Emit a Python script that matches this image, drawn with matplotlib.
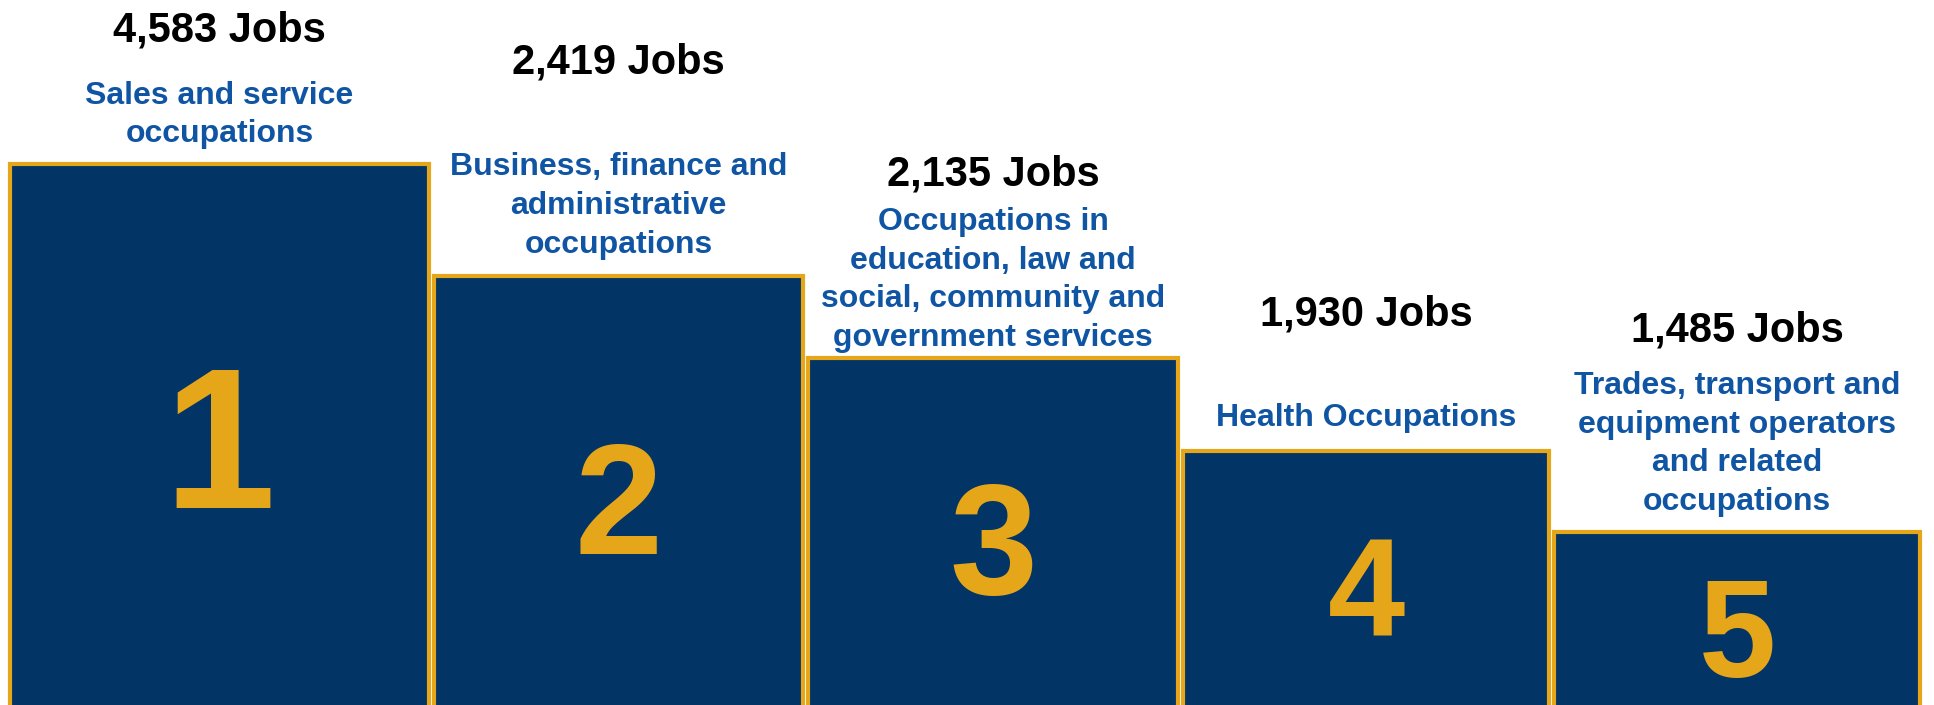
import matplotlib.pyplot as plt

ranks = ['1', '2', '3', '4', '5']
jobs = [4583, 2419, 2135, 1930, 1485]
occupations = [
    'Sales and service\noccupations',
    'Business, finance and\nadministrative\noccupations',
    'Occupations in\neducation, law and\nsocial, community and\ngovernment services',
    'Health Occupations',
    'Trades, transport and\nequipment operators\nand related\noccupations',
]
# podium step heights (pixels above the base)
podium = [550, 438, 356, 263, 182]

# layout (pixel units of the 1934x705 canvas)
lefts = [10, 434, 808, 1183, 1554]
widths = [419, 369, 370, 366, 366]
jobs_off = [133, 213, 184, 136, 202]
occ_off = [49, 70, 78, 33, 88]
rank_size = [145, 114, 114, 100, 100]

navy = '#023466'
gold = '#E6A619'
blue = '#0F55A3'

plt.rcParams['font.family'] = ['Liberation Sans', 'DejaVu Sans']

fig = plt.figure(figsize=(19.34, 7.05), dpi=100)
ax = fig.add_axes([0, 0, 1, 1])
ax.set_xlim(0, 1934)
ax.set_ylim(9, 714)
ax.axis('off')

ax.bar(lefts, podium, width=widths, align='edge', color=navy,
       edgecolor=gold, linewidth=3, zorder=2)

for i in range(len(ranks)):
    cx = lefts[i] + widths[i] / 2
    top = podium[i]
    # text boxes include the font descent, so nudge the digit down a bit
    ax.text(cx, top / 2 - 18, ranks[i], ha='center', va='center',
            fontsize=rank_size[i], fontweight='bold', color=gold, zorder=3)
    ax.text(cx, top + jobs_off[i], f'{jobs[i]:,} Jobs', ha='center',
            va='center', fontsize=30, fontweight='bold', color='black')
    ax.text(cx, top + occ_off[i], occupations[i], ha='center', va='center',
            fontsize=23, fontweight='bold', color=blue, linespacing=1.37)

fig.savefig('out.png', dpi=100)
